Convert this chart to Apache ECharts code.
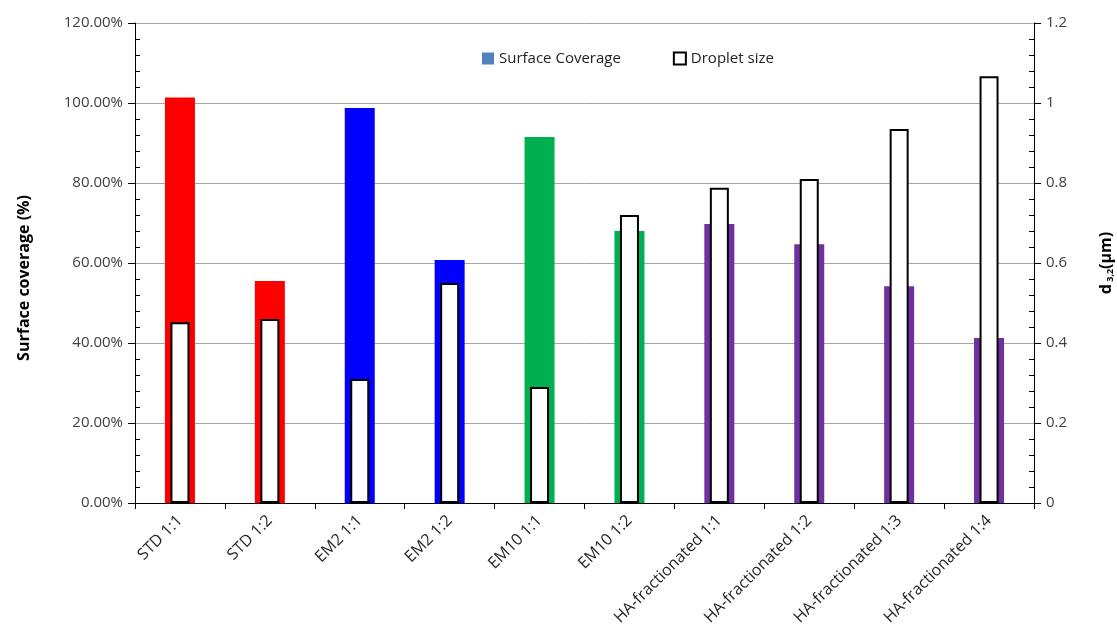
<!DOCTYPE html>
<html>
<head>
<meta charset="utf-8">
<script src="https://cdn.jsdelivr.net/npm/echarts@6/dist/echarts.min.js"></script>
<style>
  html, body { margin: 0; padding: 0; background: #fff; }
  #chart { width: 1117px; height: 637px; }
</style>
</head>
<body>
<div id="chart"></div>
<script>
// 样品名称
const categories = ['STD 1:1', 'STD 1:2', 'EM2 1:1', 'EM2 1:2', 'EM10 1:1', 'EM10 1:2',
    'HA-fractionated 1:1', 'HA-fractionated 1:2', 'HA-fractionated 1:3', 'HA-fractionated 1:4'];
// 表面覆盖率 (%)
const coverage = [101.4, 55.5, 98.75, 60.75, 91.5, 68.0, 69.75, 64.7, 54.2, 41.25];
// 液滴粒径 d3,2 (μm)
const droplet = [0.452, 0.46, 0.31, 0.55, 0.29, 0.72, 0.788, 0.81, 0.935, 1.067];
// 每根覆盖率柱子的颜色
const barColors = ['#ff0000', '#ff0000', '#0000ff', '#0000ff', '#00b050', '#00b050',
    '#7030a0', '#7030a0', '#7030a0', '#7030a0'];

const chart = echarts.init(document.getElementById('chart'));
const font = '"Open Sans", "Noto Sans", sans-serif';
const txt = '#404040';

const option = {
    animation: false,
    textStyle: { fontFamily: font },
    grid: { left: 135, right: 83, top: 23, bottom: 134, outerBoundsMode: 'none', containLabel: false },
    legend: {
        top: 46,
        left: 477,
        itemGap: 52,
        itemWidth: 12,
        itemHeight: 12,
        icon: 'rect',
        textStyle: { fontSize: 15, color: '#222', fontFamily: font },
        data: ['Surface Coverage', 'Droplet size']
    },
    xAxis: [{
        type: 'category',
        data: categories,
        axisLine: { lineStyle: { color: '#000', width: 1 } },
        axisTick: { show: true, length: 6, lineStyle: { color: '#000' } },
        axisLabel: { rotate: 45, fontSize: 16, color: '#262626', margin: 15, interval: 0 }
    }, {
        type: 'category',
        data: categories,
        show: false
    }],
    yAxis: [{
        type: 'value',
        min: 0, max: 120, interval: 20,
        name: 'Surface coverage (%)',
        nameLocation: 'middle',
        nameRotate: 90,
        nameGap: 103,
        nameTextStyle: { fontSize: 16, fontWeight: 'bold', color: '#000', padding: [0, 30, 0, 0] },
        axisLine: { show: true, lineStyle: { color: '#000' } },
        axisTick: { show: true, length: 7, lineStyle: { color: '#000' } },
        minorTick: { show: true, splitNumber: 5, length: -5, lineStyle: { color: '#000' } },
        axisLabel: { fontSize: 15, color: txt, margin: 12, formatter: v => v.toFixed(2) + '%' },
        splitLine: { show: true, lineStyle: { color: '#a6a6a6', width: 1 } }
    }, {
        type: 'value',
        min: 0, max: 1.2, interval: 0.2,
        position: 'right',
        name: '{b|d}{s| 3,2}{b|(μm)}',
        nameLocation: 'middle',
        nameRotate: 90,
        nameGap: 64,
        nameTextStyle: {
            rich: {
                b: { fontSize: 16, fontWeight: 'bold', color: '#000', fontFamily: font },
                s: { fontSize: 9, fontWeight: 'bold', color: '#000', fontFamily: font, verticalAlign: 'bottom', padding: [8, 0, 0, 0] }
            }
        },
        axisLine: { show: true, lineStyle: { color: '#000' } },
        axisTick: { show: true, length: 7, lineStyle: { color: '#000' } },
        minorTick: { show: true, splitNumber: 5, length: -5, lineStyle: { color: '#000' } },
        axisLabel: { fontSize: 15, color: txt, margin: 12, formatter: v => String(Math.round(v * 10) / 10) },
        splitLine: { show: false }
    }],
    series: [{
        name: 'Surface Coverage',
        type: 'bar',
        xAxisIndex: 0,
        yAxisIndex: 0,
        barWidth: 30,
        itemStyle: { color: '#4f81bd' },
        data: coverage.map((v, i) => ({ value: v, itemStyle: { color: barColors[i] } }))
    }, {
        name: 'Droplet size',
        type: 'bar',
        xAxisIndex: 1,
        yAxisIndex: 1,
        barWidth: 19,
        itemStyle: { color: '#fff', borderColor: '#000', borderWidth: 2 },
        data: droplet
    }]
};

chart.setOption(option);
</script>
</body>
</html>
